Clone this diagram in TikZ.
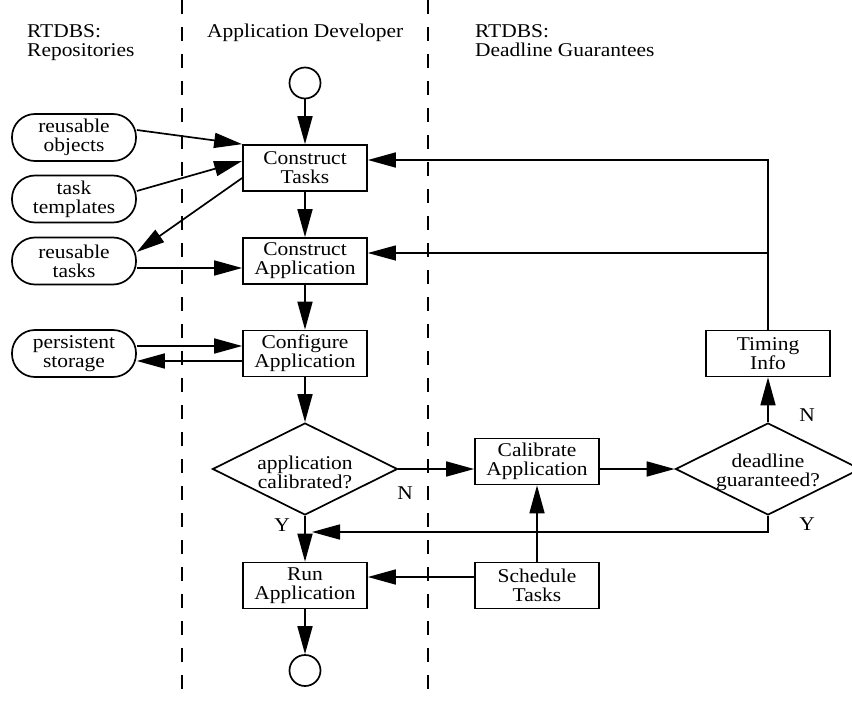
\documentclass[tikz,border=0pt]{standalone}
\usepackage{fontspec}
\setmainfont{Liberation Serif}[FakeStretch=1.1]
\usetikzlibrary{arrows.meta,shapes.geometric}
\tikzset{
  txt/.style={font=\fontsize{19.5}{19}\selectfont, inner sep=0pt},
  box/.style={txt, draw, line width=1.7pt, rectangle, minimum width=124pt, minimum height=46pt, align=center},
  repo/.style={txt, draw, line width=1.7pt, rectangle, rounded corners=23pt, minimum width=124pt, minimum height=47pt, align=center},
  term/.style={draw, line width=1.7pt, circle, minimum size=31pt, inner sep=0pt},
  decision/.style={draw, line width=1.7pt, diamond, minimum width=185pt, minimum height=92pt, inner sep=0pt},
  dtext/.style={txt, align=center},
  flow/.style={line width=1.7pt, -{Triangle[length=28pt,width=15pt]}},
  thinflow/.style={line width=1.2pt, -{Triangle[length=28pt,width=15pt]}},
  lane/.style={line width=1.3pt, dash pattern=on 14pt off 13pt},
  header/.style={txt, align=left, anchor=north west},
}
\begin{document}
\begin{tikzpicture}[x=1pt,y=-1pt]
\useasboundingbox (0,0) rectangle (852,701);
% swimlane separators
\draw[lane] (182,0) -- (182,701);
\draw[lane] (428,0) -- (428,701);
% headers
\node[header] (h1) at (27,24) {RTDBS:\\Repositories};
\node[header] (h2) at (207,24) {Application Developer};
\node[header] (h3) at (475,24) {RTDBS:\\Deadline Guarantees};
% repositories
\node[repo] (ro) at (74,137.5) {reusable\\objects};
\node[repo] (tt) at (74,199) {task\\templates};
\node[repo] (rt) at (74,261) {reusable\\tasks};
\node[repo] (ps) at (74,353.5) {persistent\\storage};
% application developer
\node[term] (start) at (305,83) {};
\node[box] (ct) at (305,168) {Construct\\Tasks};
\node[box] (ca) at (305,261) {Construct\\Application};
\node[box] (cfg) at (305,353.5) {Configure\\Application};
\node[decision] (d1) at (305,469) {};
\node[dtext] (d1t) at (305,472) {application\\calibrated?};
\node[box] (run) at (305,585.5) {Run\\Application};
\node[term] (stop) at (305,670.5) {};
% deadline guarantees
\node[box] (cal) at (537,461.5) {Calibrate\\Application};
\node[box] (sch) at (537,585.5) {Schedule\\Tasks};
\node[decision] (d2) at (768,469) {};
\node[dtext] (d2t) at (768,472) {deadline\\guaranteed?};
\node[box] (ti) at (768,353.5) {Timing\\Info};
% labels
\node[txt] (n1) at (405,493) {N};
\node[txt] (y1) at (282,525) {Y};
\node[txt] (n2) at (807,415) {N};
\node[txt] (y2) at (807,524) {Y};
\coordinate (join) at (312,532);
% connectors
\draw[flow] (start) -- (ct);
\draw[flow] ([yshift=7.5pt]ro.east) -- (ct.north west);
\draw[flow] ([yshift=8pt]tt.east) -- ([yshift=7pt]ct.west);
\draw[flow] ([yshift=-10pt]ct.west) -- ([yshift=9pt]rt.east);
\draw[flow] ([yshift=-7pt]rt.east) -- ([yshift=-7pt]ca.west);
\draw[flow] (ct) -- (ca);
\draw[flow] (ca) -- (cfg);
\draw[flow] ([yshift=7.5pt]ps.east) -- ([yshift=7.5pt]cfg.west);
\draw[flow] ([yshift=-7.5pt]cfg.west) -- ([yshift=-7.5pt]ps.east);
\draw[flow] (cfg) -- (d1);
\draw[flow] (d1.east) -- (d1.east -| cal.west);
\draw[flow] (cal.east |- d2.west) -- (d2.west);
\draw[flow] (d2.north) -- (ti.south);
\draw[flow] (ti.north) |- ([yshift=8pt]ct.east);
\draw[thinflow] (ti.north |- ca.east) ++(0,-8) -- ([yshift=8pt]ca.east);
\draw[flow] (d2.south) |- (join);
\draw[flow] (d1.south) -- (run.north);
\draw[flow] (sch.north) -- (cal.south);
\draw[flow] ([yshift=8.5pt]sch.west) -- ([yshift=8.5pt]run.east);
\draw[flow] (run) -- (stop);
\end{tikzpicture}
\end{document}
